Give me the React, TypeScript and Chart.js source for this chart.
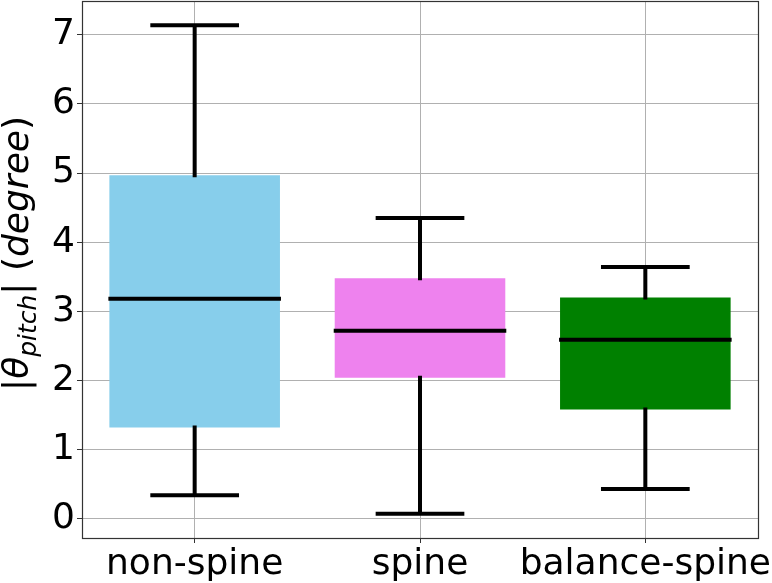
import React, { useEffect, useRef } from "react";
import { Chart, registerables } from "chart.js";

Chart.register(...registerables);

const categories = ["non-spine", "spine", "balance-spine"];
const whiskerLow = [0.34, 0.07, 0.43];
const q1 = [1.32, 2.04, 1.58];
const medians = [3.18, 2.72, 2.59];
const q3 = [4.97, 3.48, 3.2];
const whiskerHigh = [7.14, 4.35, 3.64];
const boxColors = ["#87CEEB", "#EE82EE", "#008000"];
const yTicks = [0, 1, 2, 3, 4, 5, 6, 7];
const yMin = -0.28;
const yMax = 7.49;

const FONT = "'DejaVu Sans', sans-serif";

const boxLinesPlugin = {
  id: "boxLines",
  afterDatasetsDraw(chart: any) {
    const ctx = chart.ctx;
    const y = chart.scales.y;
    const meta = chart.getDatasetMeta(0);
    ctx.save();
    ctx.strokeStyle = "#000";
    ctx.lineWidth = 4;
    ctx.lineCap = "butt";
    meta.data.forEach((el: any, i: number) => {
      const cx = el.x;
      const w = el.width;
      const capHalf = (w * 0.52) / 2;
      const pLow = y.getPixelForValue(whiskerLow[i]);
      const pQ1 = y.getPixelForValue(q1[i]);
      const pMed = y.getPixelForValue(medians[i]);
      const pQ3 = y.getPixelForValue(q3[i]);
      const pHigh = y.getPixelForValue(whiskerHigh[i]);
      ctx.beginPath();
      ctx.moveTo(cx, pQ3 + 2);
      ctx.lineTo(cx, pHigh);
      ctx.moveTo(cx, pQ1 - 2);
      ctx.lineTo(cx, pLow);
      ctx.moveTo(cx - capHalf, pHigh);
      ctx.lineTo(cx + capHalf, pHigh);
      ctx.moveTo(cx - capHalf, pLow);
      ctx.lineTo(cx + capHalf, pLow);
      ctx.moveTo(cx - w / 2 - 1, pMed);
      ctx.lineTo(cx + w / 2 + 1, pMed);
      ctx.stroke();
    });
    const a = chart.chartArea;
    ctx.lineWidth = 1.2;
    ctx.strokeStyle = "#333";
    ctx.strokeRect(Math.round(a.left) + 0.5, Math.round(a.top) + 0.5, Math.round(a.right - a.left), Math.round(a.bottom - a.top));
    ctx.restore();
  },
  afterDraw(chart: any) {
    const ctx = chart.ctx;
    const a = chart.chartArea;
    const size = 36;
    const parts = [
      { t: "|", f: `${size}px ${FONT}`, dy: 0 },
      { t: "θ", f: `italic ${size}px ${FONT}`, dy: 0 },
      { t: "pitch", f: `italic ${Math.round(size * 0.7)}px ${FONT}`, dy: 8 },
      { t: "|", f: `${size}px ${FONT}`, dy: 0 },
      { t: " ", f: `${size}px ${FONT}`, dy: 0 },
      { t: "(", f: `${size}px ${FONT}`, dy: 0 },
      { t: "degree", f: `italic ${size}px ${FONT}`, dy: 0 },
      { t: ")", f: `${size}px ${FONT}`, dy: 0 },
    ];
    ctx.save();
    let total = 0;
    const widths = parts.map((p) => {
      ctx.font = p.f;
      const w = ctx.measureText(p.t).width;
      total += w;
      return w;
    });
    ctx.translate(28, (a.top + a.bottom) / 2 - 16);
    ctx.rotate(-Math.PI / 2);
    ctx.fillStyle = "#000";
    ctx.textBaseline = "alphabetic";
    ctx.textAlign = "left";
    let x = -total / 2;
    parts.forEach((p, i) => {
      ctx.font = p.f;
      ctx.fillText(p.t, x, p.dy);
      x += widths[i];
    });
    ctx.restore();
  },
};

export default function App() {
  const ref = useRef<HTMLCanvasElement | null>(null);
  useEffect(() => {
    if (!ref.current) return;
    const chart = new Chart(ref.current, {
      type: "bar",
      data: {
        labels: categories,
        datasets: [
          {
            data: categories.map((_, i) => [q1[i], q3[i]]) as any,
            backgroundColor: boxColors,
            borderWidth: 0,
            barPercentage: 0.757,
            categoryPercentage: 1,
          },
        ],
      },
      options: {
        responsive: false,
        animation: false,
        devicePixelRatio: 1,
        layout: { padding: { left: 0, right: 14, top: 1, bottom: 0 } },
        plugins: { legend: { display: false }, tooltip: { enabled: false } },
        scales: {
          x: {
            offset: true,
            grid: { offset: false, color: "#b0b0b0", lineWidth: 1, tickColor: "#333", tickLength: 5, drawTicks: true },
            border: { display: false },
            ticks: { color: "#000", font: { family: FONT, size: 36 }, padding: 0, maxRotation: 0, autoSkip: false },
            afterFit: (s: any) => {
              s.height = 45;
              s.paddingLeft = 0;
              s.paddingRight = 0;
            },
          },
          y: {
            min: yMin,
            max: yMax,
            grid: { color: "#b0b0b0", lineWidth: 1, tickColor: "#333", tickLength: 5 },
            border: { display: false },
            ticks: { color: "#000", font: { family: FONT, size: 36 }, padding: 2 },
            afterBuildTicks: (s: any) => {
              s.ticks = yTicks.map((v) => ({ value: v }));
            },
            afterFit: (s: any) => {
              s.width = 82;
              s.paddingTop = 0;
              s.paddingBottom = 0;
            },
          },
        },
      },
      plugins: [boxLinesPlugin],
    });
    return () => chart.destroy();
  }, []);
  return (
    <div style={{ position: "fixed", left: 0, top: 0, width: 772, height: 583, background: "#fff" }}>
      <canvas ref={ref} width={772} height={583} />
    </div>
  );
}
